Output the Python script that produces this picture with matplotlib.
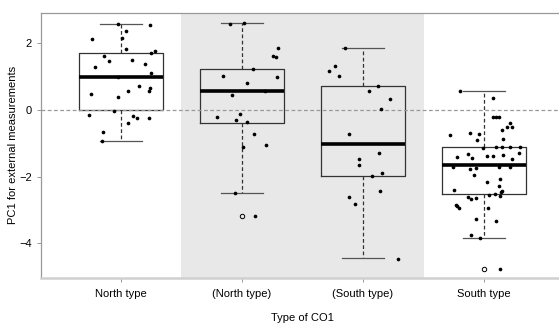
import numpy as np
import matplotlib
matplotlib.use("Agg")
import matplotlib.pyplot as plt

plt.rcParams['font.family'] = ['Liberation Sans', 'DejaVu Sans']

categories = ["North type", "(North type)", "(South type)", "South type"]

# box statistics: lower whisker, Q1, median, Q3, upper whisker
whislo = [-0.92, -2.49, -4.45, -3.84]
q1 = [0.0, -0.38, -1.97, -2.53]
med = [0.98, 0.58, -1.01, -1.65]
q3 = [1.70, 1.22, 0.71, -1.10]
whishi = [2.58, 2.60, 1.85, 0.56]
fliers = [[], [-3.18], [], [-4.77]]

# jittered observations (value, horizontal jitter)
north_y = [2.58, 2.56, 2.36, 2.12, 2.16, 1.82, 1.78, 1.70, 1.63, 1.47, 1.50, 1.39,
           1.29, 1.12, 0.98, 0.71, 0.66, 0.58, 0.57, 0.49, 0.40, -0.03, -0.14,
           -0.17, -0.25, -0.25, -0.38, -0.66, -0.92]
north_j = [-0.02, 0.24, 0.04, -0.24, 0.01, 0.04, 0.28, 0.25, -0.14, -0.10, 0.09, 0.20,
           -0.21, 0.25, -0.02, 0.15, 0.24, 0.06, 0.23, -0.25, -0.02, -0.06, -0.26,
           0.10, 0.13, 0.23, 0.06, -0.15, -0.16]

pnorth_y = [2.57, 2.60, 1.86, 1.61, 1.59, 1.22, 1.03, 1.00, 0.80, 0.58, 0.46, -0.13,
            -0.22, -0.31, -0.37, -0.73, -1.04, -1.10, -2.49, -3.18]
pnorth_j = [-0.10, 0.02, 0.30, 0.26, 0.28, 0.09, -0.16, 0.29, 0.04, 0.19, -0.08, -0.02,
            -0.21, -0.05, 0.04, 0.10, 0.20, 0.01, -0.06, 0.11]

psouth_y = [1.85, 1.31, 1.17, 1.01, 0.71, 0.57, 0.32, 0.04, -0.73, -1.29, -1.47, -1.65,
            -1.90, -1.98, -2.43, -2.60, -2.82, -4.46]
psouth_j = [-0.15, -0.23, -0.28, -0.20, 0.12, 0.05, 0.22, 0.15, -0.12, 0.13, -0.03, -0.03,
            0.16, 0.07, 0.14, -0.12, -0.07, 0.29]

south_y = [0.57, 0.36, -0.22, -0.20, -0.22, -0.40, -0.51, -0.51, -0.61, -0.68, -0.72,
           -0.74, -0.86, -0.90, -1.15, -1.10, -1.10, -1.11, -1.11, -1.29, -1.42, -1.33,
           -1.43, -1.37, -1.39, -1.34, -1.48, -1.72, -1.78, -1.75, -1.72, -1.70, -1.96,
           -2.17, -2.06, -2.27, -2.43, -2.47, -2.40, -2.57, -2.54, -2.53, -2.60, -2.66,
           -2.63, -2.85, -2.87, -2.95, -2.93, -3.28, -3.32, -3.76, -3.83, -4.77]
south_j = [-0.20, 0.07, 0.07, 0.10, 0.12, 0.21, 0.19, 0.23, 0.15, -0.12, -0.04,
           -0.28, 0.16, -0.06, -0.01, 0.10, 0.15, 0.21, 0.30, 0.29, -0.22, -0.13,
           -0.10, 0.02, 0.07, 0.16, 0.23, -0.26, -0.12, -0.07, 0.12, 0.21, -0.08,
           0.02, 0.13, 0.12, 0.15, 0.14, -0.25, 0.13, 0.04, 0.09, -0.13, -0.11,
           -0.07, -0.23, -0.22, -0.21, 0.03, -0.07, 0.10, -0.11, -0.03, 0.13]

points_y = [north_y, pnorth_y, psouth_y, south_y]
points_j = [north_j, pnorth_j, psouth_j, south_j]

fig = plt.figure(figsize=(5.59, 3.33), dpi=100)
ax = fig.add_axes([41 / 559, 55 / 333, 523 / 559, 265 / 333])

pos = np.arange(1, len(categories) + 1)

ax.axvspan(1.5, 3.5, color='#e8e8e8', lw=0, zorder=0)

stats = []
for i in range(len(categories)):
    stats.append(dict(whislo=whislo[i], q1=q1[i], med=med[i], q3=q3[i],
                      whishi=whishi[i], fliers=fliers[i], label=categories[i]))

ax.bxp(stats, positions=pos, widths=0.7, capwidths=0.35,
       boxprops=dict(color='#333333', lw=0.9),
       whiskerprops=dict(color='#333333', lw=0.9, ls=(0, (3, 2))),
       capprops=dict(color='#555555', lw=0.9),
       medianprops=dict(color='black', lw=2.6),
       flierprops=dict(marker='o', markerfacecolor='none', markeredgecolor='black',
                       markersize=3.2, markeredgewidth=0.7),
       zorder=2)

ax.axhline(0, color='#999999', lw=0.9, ls=(0, (3, 2)), zorder=3)

for i in range(len(categories)):
    xs = pos[i] + np.array(points_j[i])
    ax.scatter(xs, points_y[i], s=7, color='black', lw=0, zorder=4)

ax.set_xlim(0.34, 4.66)
ax.set_ylim(-5.04, 2.91)
ax.set_yticks([2, 0, -2, -4])
ax.set_xticks(pos)
ax.set_xticklabels(categories)

for s in ['top', 'left']:
    ax.spines[s].set_color('#999999')
    ax.spines[s].set_linewidth(0.9)
ax.spines['bottom'].set_color('#d0d0d0')
ax.spines['bottom'].set_linewidth(1.8)
ax.spines['right'].set_visible(False)

ax.tick_params(axis='both', labelsize=8, colors='#999999', labelcolor='black',
               length=3, width=0.7)
ax.tick_params(axis='x', pad=5)

fig.text(13 / 559, 1 - 145 / 333, 'PC1 for external measurements', fontsize=8,
         rotation=90, ha='center', va='center')
fig.text(302 / 559, 1 - 318 / 333, 'Type of CO1', fontsize=8, ha='center', va='center')

fig.savefig('out.png', dpi=100)
